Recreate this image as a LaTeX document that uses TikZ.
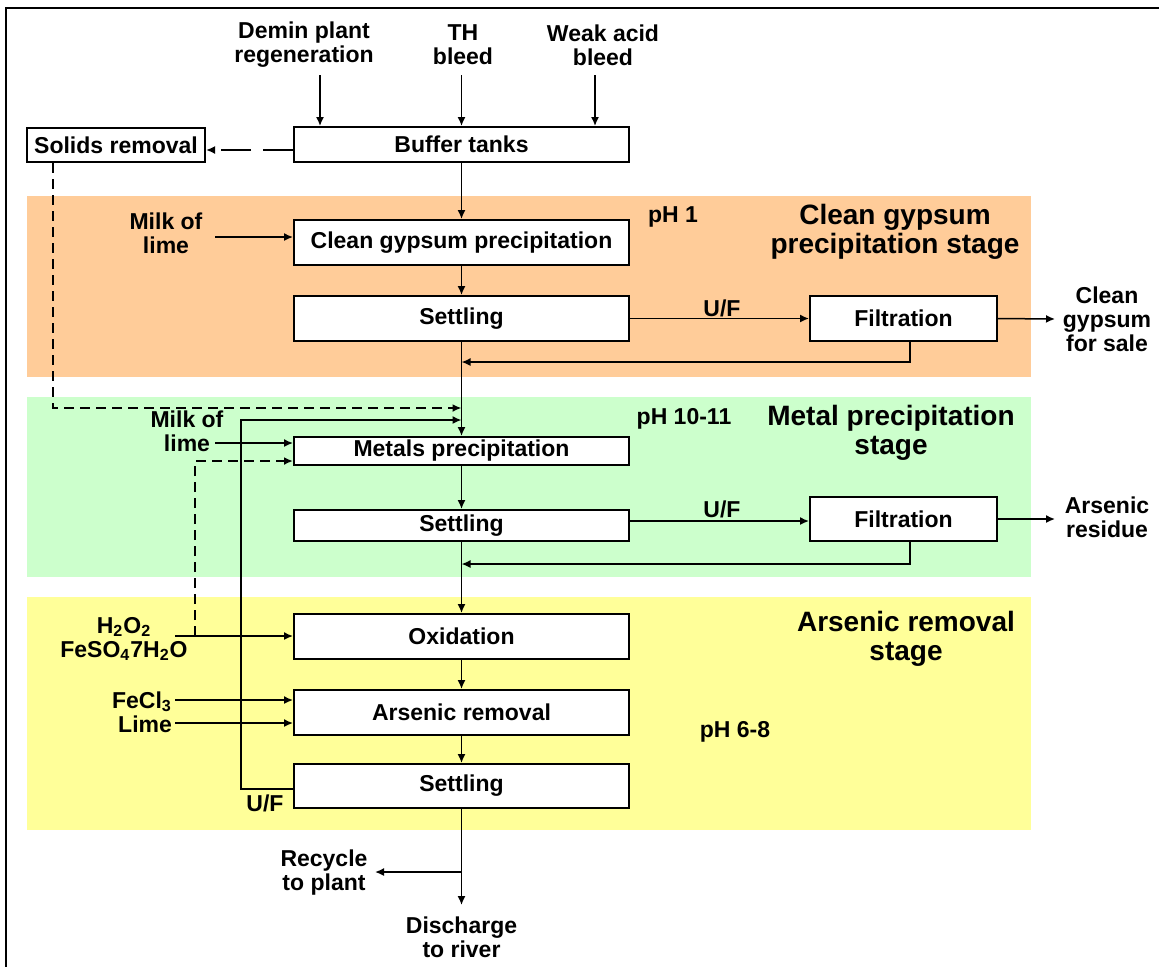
\documentclass[tikz,border=0pt]{standalone}
\usepackage{fontspec}
\setmainfont{Liberation Sans}
\usetikzlibrary{arrows.meta}
\definecolor{orangeband}{RGB}{255,204,153}
\definecolor{greenband}{RGB}{204,255,204}
\definecolor{yellowband}{RGB}{255,255,153}
\begin{document}
\begin{tikzpicture}[x=0.5pt,y=-0.5pt,
  box/.style={draw, line width=1pt, fill=white, minimum width=167.5pt, minimum height=22.5pt, inner sep=0pt, font=\bfseries\fontsize{11.5}{12}\selectfont},
  lbl/.style={inner sep=0pt, align=center, font=\bfseries\fontsize{11.5}{12}\selectfont},
  hd/.style={inner sep=0pt, align=center, font=\bfseries\fontsize{14}{14.5}\selectfont},
  ln/.style={line width=0.75pt},
  arr/.style={ln, -{Latex[length=4.5pt,width=4pt]}},
  dsh/.style={line width=1.2pt, dash pattern=on 5pt off 3pt},
]
\useasboundingbox (0,0) rectangle (1159,966);
% frame
\draw[line width=1.2pt] (6,972) -- (6,8) -- (1165,8);
% bands
\fill[orangeband] (27,196) rectangle (1031,377);
\fill[greenband] (27,397) rectangle (1031,577);
\fill[yellowband] (27,597) rectangle (1031,830);

% top labels
\node[lbl] (demin) at (304,45) {Demin plant\\regeneration};
\node[lbl] (th) at (463,45) {TH\\bleed};
\node[lbl] (weak) at (603,45) {Weak acid\\bleed};

% boxes
\node[box, minimum height=17.5pt] (buffer) at (461.5,144.5) {Buffer tanks};
\node[box, minimum width=89pt, minimum height=17pt] (solids) at (116,145) {Solids removal};
\node[box] (cgp) at (461.5,242.5) {Clean gypsum precipitation};
\node[box] (set1) at (461.5,318.5) {Settling};
\node[box, minimum width=93.5pt] (filt1) at (903.5,318.5) {Filtration};
\node[box, minimum height=14pt] (metp) at (461.5,451) {Metals precipitation};
\node[box, minimum height=15.5pt] (set2) at (461.5,525.5) {Settling};
\node[box, minimum width=93.5pt, minimum height=22pt] (filt2) at (903.5,519) {Filtration};
\node[box] (oxid) at (461.5,636.5) {Oxidation};
\node[box] (arsr) at (461.5,712.5) {Arsenic removal};
\node[box, minimum height=22pt] (set3) at (461.5,786) {Settling};

% other labels
\node[lbl] (mol1) at (166,233) {Milk of\\lime};
\node[lbl] (ph1) at (673,217) {pH 1};
\node[hd] (stage1) at (895,232) {Clean gypsum\\precipitation stage};
\node[lbl] (uf1) at (722,308) {U/F};
\node[lbl] (cgs) at (1107,319) {Clean\\gypsum\\for sale};
\node[lbl] (mol2) at (187,431) {Milk of\\lime};
\node[lbl] (ph2) at (684,419) {pH 10-11};
\node[hd] (stage2) at (891,433) {Metal precipitation\\stage};
\node[lbl] (uf2) at (722,509) {U/F};
\node[lbl] (ars) at (1107,517) {Arsenic\\residue};
\node[lbl] (h2o2) at (124,639) {H\textsubscript{2}O\textsubscript{2}\\FeSO\textsubscript{4}7H\textsubscript{2}O};
\node[hd] (stage3) at (906,639) {Arsenic removal\\stage};
\node[lbl, align=right] (fecl) at (142,712) {FeCl\textsubscript{3}\\Lime};
\node[lbl] (ph3) at (735,732) {pH 6-8};
\node[lbl] (uf3) at (265,803) {U/F};
\node[lbl] (recycle) at (324,873) {Recycle\\to plant};
\node[lbl] (discharge) at (461.5,937) {Discharge\\to river};

% free-end coordinates
\coordinate (d1) at (320,75);
\coordinate (t1) at (461.5,75);
\coordinate (w1) at (595,75);
\coordinate (gyout) at (1055,319);
\coordinate (arout) at (1055,519);
\coordinate (split) at (461.5,872);
\coordinate (rcend) at (375,872);
\coordinate (dcend) at (461.5,905);

% inputs to buffer
\draw[arr] (d1) -- (d1 |- buffer.north);
\draw[arr] (t1) -- (t1 |- buffer.north);
\draw[arr] (w1) -- (w1 |- buffer.north);
% buffer -> solids (dashed, long)
\draw[arr, line width=1.2pt, dash pattern=on 15pt off 6pt] (buffer.west |- 0,150) -- (solids.east |- 0,150);
% solids -> main line
\draw[arr, dsh] (solids.south -| 53,0) -- (53,408) -- (461.5,408);

% main chain
\draw[arr] (buffer.south) -- (cgp.north);
\draw[arr] (215,237) -- (cgp.west |- 0,237);
\draw[arr] (cgp.south) -- (set1.north);
\draw[arr] (set1.east) -- (filt1.west);
\draw[arr] (filt1.east) -- (gyout);
\draw[arr] (filt1.south -| 910,0) -- (910,362) -- (461.5,362);
\draw[arr] (set1.south) -- (metp.north);

% metals stage
\draw[arr] (215,443) -- (metp.west |- 0,443);
\draw[arr] (set3.west |- 0,789) -- (241,789) -- (241,420) -- (461.5,420);
\draw[arr, dsh] (195,636) -- (195,461) -- (metp.west |- 0,461);
\draw[arr] (metp.south) -- (set2.north);
\draw[arr] (set2.east |- 0,521) -- (filt2.west |- 0,521);
\draw[arr] (filt2.east) -- (arout);
\draw[arr] (filt2.south -| 910,0) -- (910,564) -- (461.5,564);
\draw[arr] (set2.south) -- (oxid.north);

% arsenic stage
\draw[arr] (175,636) -- (oxid.west |- 0,636);
\draw[arr] (oxid.south) -- (arsr.north);
\draw[arr] (175,700) -- (arsr.west |- 0,700);
\draw[arr] (175,723) -- (arsr.west |- 0,723);
\draw[arr] (arsr.south) -- (set3.north);
\draw[arr] (set3.south) -- (dcend);
\draw[arr] (split) -- (rcend);
\end{tikzpicture}
\end{document}
